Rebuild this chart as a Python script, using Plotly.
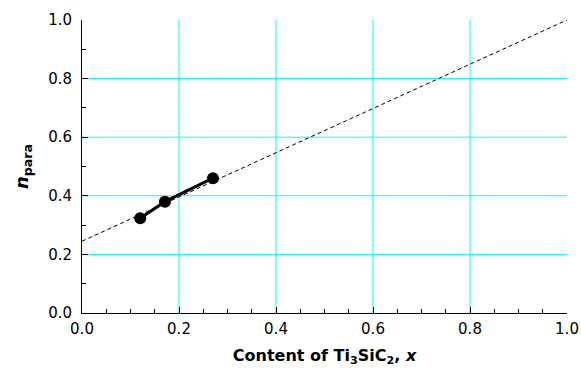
import plotly.graph_objects as go

# data
content_x = [0.12, 0.171, 0.27]
n_para = [0.323, 0.38, 0.46]
fit_x = [0.0, 1.0]
fit_y = [0.245, 1.0]
grid_vals = [0.2, 0.4, 0.6, 0.8]
tick_vals = [0.0, 0.2, 0.4, 0.6, 0.8, 1.0]
tick_text = ["0.0", "0.2", "0.4", "0.6", "0.8", "1.0"]

FONT = "DejaVu Sans, Liberation Sans, Arial, sans-serif"

fig = go.Figure()
fig.add_trace(go.Scatter(x=fit_x, y=fit_y, mode="lines",
                         line=dict(color="black", width=1, dash="4px,3px"),
                         showlegend=False, hoverinfo="skip", cliponaxis=False))
fig.add_trace(go.Scatter(x=content_x, y=n_para, mode="lines+markers",
                         line=dict(color="black", width=3),
                         marker=dict(color="black", size=12),
                         showlegend=False))

shapes = []
for v in grid_vals:
    shapes.append(dict(type="line", xref="x", yref="paper", x0=v, x1=v, y0=0, y1=1,
                       line=dict(color="#00ffff", width=1), layer="below"))
    shapes.append(dict(type="line", xref="paper", yref="y", x0=0, x1=1, y0=v, y1=v,
                       line=dict(color="#00ffff", width=1), layer="below"))

axis_common = dict(
    range=[0, 1], showgrid=False, zeroline=False, showline=True, automargin=False,
    linecolor="black", linewidth=1, ticks="inside", ticklen=6, tickcolor="black",
    tickvals=tick_vals, ticktext=tick_text,
    tickfont=dict(family=FONT, size=15, color="black"),
)

fig.update_layout(
    width=581, height=371,
    margin=dict(l=82, r=14, t=20, b=58),
    plot_bgcolor="white", paper_bgcolor="white",
    shapes=shapes,
    xaxis=dict(**axis_common, ticklabelstandoff=2,
               minor=dict(ticks="inside", ticklen=4, dtick=0.05, tickcolor="black", showgrid=False),
               title=dict(text="<b>Content of Ti<sub>3</sub>SiC<sub>2</sub>, <i>x</i></b>",
                          font=dict(family=FONT, size=16, color="black"), standoff=12)),
    yaxis=dict(**axis_common, ticklabelstandoff=6,
               minor=dict(ticks="inside", ticklen=4, dtick=0.1, tickcolor="black", showgrid=False),
               title=dict(text="<b><i>n</i><sub>para</sub></b>",
                          font=dict(family=FONT, size=18, color="black"), standoff=14)),
)

fig.write_html("out.html", config={"displayModeBar": False},
               post_script="document.body.style.margin='0';document.body.style.overflow='hidden';")
